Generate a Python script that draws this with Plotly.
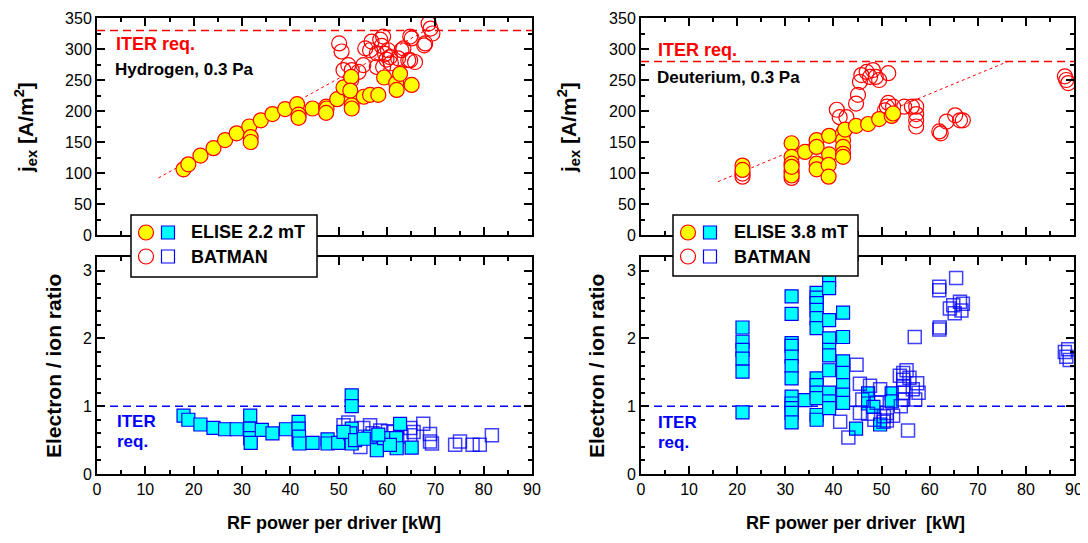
import plotly.graph_objects as go

# ---------------- data ----------------
# Hydrogen (left), extracted current density j_ex [A/m2] vs RF power per driver [kW]
H_elise_p = [17.9, 18.9, 21.4, 24.1, 26.5, 28.9, 31.5, 31.8, 31.8, 33.9,
             36.3, 38.9, 41.4, 41.7, 41.7, 44.6, 47.4, 47.5, 47.4, 49.7,
             51.0, 52.6, 52.7, 52.7, 52.7, 52.7, 52.4, 55.2, 56.5, 58.2,
             59.4, 61.9, 62.0, 62.7, 65.1]
H_elise_j = [106, 114, 128, 140, 153, 164, 175, 158, 150, 185,
             195, 203, 211, 194, 189, 204, 207, 204, 197, 219,
             238, 255, 224, 217, 209, 204, 233, 223, 226, 226,
             254, 245, 234, 260, 242]
H_batman_p = [50.1, 50.6, 51.0, 52.0, 52.6, 52.7, 54.1, 55.1, 55.5, 56.5,
              56.8, 57.9, 58.6, 58.9, 59.2, 59.6, 59.9, 60.2, 59.2, 57.9,
              60.6, 60.8, 62.3, 63.4, 64.8, 65.1, 67.9, 68.6, 69.0, 69.4,
              63.0, 64.4, 65.8, 67.7, 64.8]
H_batman_j = [309, 296, 266, 274, 250, 266, 263, 274, 301, 298,
              312, 293, 315, 305, 320, 292, 283, 298, 271, 271,
              287, 277, 285, 301, 282, 317, 309, 341, 333, 325,
              298, 282, 279, 306, 320]
# Hydrogen electron/ion ratio
H_elise_rp = [17.9, 18.9, 21.4, 24.1, 26.5, 28.9, 31.7, 31.7, 31.7, 31.8,
              34.1, 36.3, 39.1, 41.7, 41.7, 41.7, 41.8, 41.9, 44.6, 47.7,
              47.7, 49.9, 52.7, 52.7, 52.7, 52.4, 52.7, 51.0, 53.4, 56.5,
              57.9, 59.4, 61.9, 62.0, 62.7, 65.1, 60.6, 55.2, 58.2]
H_elise_r = [0.86, 0.80, 0.73, 0.68, 0.66, 0.66, 0.86, 0.67, 0.53, 0.46,
             0.65, 0.60, 0.66, 0.77, 0.67, 0.50, 0.55, 0.45, 0.46, 0.51,
             0.45, 0.46, 1.16, 1.00, 0.67, 0.60, 0.45, 0.62, 0.50, 0.55,
             0.35, 0.53, 0.53, 0.38, 0.74, 0.39, 0.43, 0.52, 0.58]
H_batman_rp = [51.0, 52.0, 55.1, 56.5, 58.6, 60.2, 64.8, 64.8, 67.5, 68.9,
               68.9, 65.5, 69.3, 74.1, 75.1, 77.7, 79.2, 81.7, 53.5, 54.5,
               57.0, 59.0, 61.5, 63.0]
H_batman_r = [0.72, 0.76, 0.68, 0.72, 0.64, 0.63, 0.68, 0.57, 0.74, 0.59,
              0.48, 0.62, 0.45, 0.43, 0.48, 0.43, 0.43, 0.57, 0.55, 0.40,
              0.60, 0.50, 0.62, 0.55]

# Deuterium (right)
D_elise_p = [21.1, 21.1, 31.3, 31.3, 31.3, 31.3, 31.3, 31.3, 34.1, 36.5,
             36.5, 36.5, 36.5, 39.1, 39.1, 39.0, 39.0, 42.0, 42.0, 42.0,
             42.0, 42.0, 42.4, 44.7, 47.2, 49.5, 52.1, 52.4]
D_elise_j = [112, 105, 148, 126, 115, 104, 96, 110, 134, 153,
             142, 115, 106, 160, 130, 113, 94, 164, 153, 142,
             131, 126, 170, 176, 179, 187, 192, 196]
D_batman_p = [21.1, 21.1, 31.3, 31.3, 40.7, 41.3, 42.7, 44.7, 45.1, 45.5,
              45.8, 46.9, 47.6, 48.2, 48.8, 49.5, 51.4, 51.1, 51.4, 50.7,
              52.4, 54.7, 56.3, 57.2, 57.2, 57.2, 57.2, 62.0, 62.3, 63.5,
              65.3, 66.3, 66.9, 88.1, 88.4, 88.8]
D_batman_j = [94, 99, 92, 100, 202, 190, 190, 212, 226, 247,
              258, 263, 255, 266, 255, 250, 261, 207, 213, 201,
              207, 207, 207, 207, 195, 185, 175, 167, 164, 183,
              193, 185, 185, 256, 250, 245]
D_elise_rp = [21.1, 21.1, 21.1, 21.1, 21.1, 21.1,
              31.3, 31.3, 31.3, 31.3, 31.3, 31.3, 31.3, 31.3, 31.3, 31.3, 31.3, 31.3,
              34.1,
              36.5, 36.5, 36.5, 36.5, 36.5, 36.5, 36.5, 36.5, 36.5, 36.5, 36.5, 36.5,
              39.1, 39.1, 39.1, 39.1, 39.1, 39.1, 39.1, 39.1, 39.1, 39.1,
              42.0, 42.0, 42.0, 42.0, 42.0, 42.0, 42.0,
              44.7, 47.2, 47.2, 48.3, 49.7, 52.1, 52.1]
D_elise_r = [2.16, 1.95, 1.83, 1.70, 1.51, 0.91,
             2.62, 2.36, 1.93, 1.89, 1.73, 1.59, 1.41, 1.14, 1.04, 0.97, 0.90, 0.76,
             1.09,
             2.67, 2.60, 2.52, 2.42, 2.30, 2.15, 1.41, 1.31, 1.20, 1.12, 0.87, 0.80,
             2.86, 2.74, 2.27, 2.00, 1.83, 1.75, 1.53, 1.20, 1.07, 0.97,
             2.38, 2.02, 1.66, 1.49, 1.31, 1.17, 1.05,
             0.67, 1.19, 1.04, 0.99, 0.73, 1.19, 1.07]
D_batman_rp = [44.8, 45.5, 47.6, 45.5, 41.4, 43.1, 47.2, 49.7, 51.1, 51.1,
               50.4, 52.4, 54.5, 54.5, 54.5, 54.5, 54.5, 55.2, 57.4, 57.7,
               55.5, 56.9, 62.0, 62.0, 62.1, 62.0, 65.5, 64.2, 64.9, 66.3,
               66.6, 65.2, 66.9, 88.1, 88.4, 88.8, 89.1, 53.8, 54.0, 55.8,
               56.5, 57.0, 49.0, 48.5, 50.5, 46.0]
D_batman_r = [1.61, 1.33, 1.30, 0.90, 0.77, 0.54, 0.89, 1.25, 0.90, 0.79,
              0.77, 0.86, 1.49, 1.39, 1.29, 1.20, 1.10, 1.53, 1.34, 1.20,
              0.64, 2.02, 2.71, 2.76, 2.16, 2.13, 2.89, 2.44, 2.49, 2.54,
              2.41, 2.37, 2.51, 1.80, 1.73, 1.84, 1.68, 1.45, 1.00, 1.42,
              1.25, 1.10, 1.05, 0.80, 0.85, 1.10]

# reference lines
power_range = [0, 90]
H_iter_j = [330, 330]
D_iter_j = [280, 280]
iter_ratio = [1.0, 1.0]
H_fit_p = [12.7, 68.0]
H_fit_j = [92, 330]
D_fit_p = [16.0, 76.3]
D_fit_j = [86, 280]

# ---------------- figure ----------------
# The page body has an 8px margin, so the figure is 8px smaller and layout
# positions (given in screen pixels) are shifted accordingly.
OFF = 8
W, H = 1088 - OFF, 543 - OFF
FONT = "Liberation Sans, Arial, sans-serif"

def px(x):
    return (x - OFF) / W

def py(y):
    return 1 - (y - OFF) / H

fig = go.Figure()

YEL, RED, CYAN, BLUE = "#FFFF00", "#FF0000", "#00FFFF", "#0000FF"

def circ_open(x, y, xa, ya):
    fig.add_trace(go.Scatter(x=x, y=y, mode="markers", xaxis=xa, yaxis=ya,
                             marker=dict(symbol="circle-open", size=15, color=RED,
                                         line=dict(width=1.2, color=RED))))

def circ_fill(x, y, xa, ya):
    fig.add_trace(go.Scatter(x=x, y=y, mode="markers", xaxis=xa, yaxis=ya,
                             marker=dict(symbol="circle", size=15, color=YEL,
                                         line=dict(width=1.2, color=RED))))

def sq_open(x, y, xa, ya):
    fig.add_trace(go.Scatter(x=x, y=y, mode="markers", xaxis=xa, yaxis=ya,
                             marker=dict(symbol="square-open", size=13, color="rgba(0,0,255,0.75)",
                                         line=dict(width=1.5, color="rgba(0,0,255,0.75)"))))

def sq_fill(x, y, xa, ya):
    fig.add_trace(go.Scatter(x=x, y=y, mode="markers", xaxis=xa, yaxis=ya,
                             marker=dict(symbol="square", size=13, color=CYAN,
                                         line=dict(width=1.2, color=BLUE))))

def line(x, y, xa, ya, color, width, dash):
    fig.add_trace(go.Scatter(x=x, y=y, mode="lines", xaxis=xa, yaxis=ya,
                             line=dict(color=color, width=width, dash=dash)))

# top-left
line(H_fit_p, H_fit_j, "x", "y", RED, 1, "3px,3px")
line(power_range, H_iter_j, "x", "y", RED, 1.5, "8px,5px")
circ_open(H_batman_p, H_batman_j, "x", "y")
circ_fill(H_elise_p, H_elise_j, "x", "y")
# bottom-left
line(power_range, iter_ratio, "x2", "y2", BLUE, 1.5, "8px,5px")
sq_open(H_batman_rp, H_batman_r, "x2", "y2")
sq_fill(H_elise_rp, H_elise_r, "x2", "y2")
# top-right
line(D_fit_p, D_fit_j, "x3", "y3", RED, 1, "3px,3px")
line(power_range, D_iter_j, "x3", "y3", RED, 1.5, "8px,5px")
circ_open(D_batman_p, D_batman_j, "x3", "y3")
circ_fill(D_elise_p, D_elise_j, "x3", "y3")
# bottom-right
line(power_range, iter_ratio, "x4", "y4", BLUE, 1.5, "8px,5px")
sq_fill(D_elise_rp, D_elise_r, "x4", "y4")
sq_open(D_batman_rp, D_batman_r, "x4", "y4")

LX = [px(97), px(532)]
RX = [px(641), px(1074)]
TY = [py(235), py(18)]
BY = [py(474), py(257)]

def ax(domain, anchor, rng, dtick, mdtick, labels=True):
    return dict(domain=domain, anchor=anchor, range=rng, dtick=dtick, tick0=0,
                automargin=False,
                showline=True, linecolor="black", linewidth=2, mirror="ticks",
                ticks="inside", ticklen=8, tickwidth=2, tickcolor="black",
                showgrid=False, zeroline=False, showticklabels=labels,
                tickfont=dict(family=FONT, size=16, color="black"),
                minor=dict(dtick=mdtick, tick0=0, ticks="inside", ticklen=4, tickwidth=2,
                           tickcolor="black", showgrid=False))

fig.update_layout(
    width=W, height=H, margin=dict(l=0, r=0, t=0, b=0, autoexpand=False),
    paper_bgcolor="white", plot_bgcolor="white", showlegend=False,
    font=dict(family=FONT, color="black"),
    xaxis=ax(LX, "y", [0, 90], 10, 5, labels=False),
    yaxis=ax(TY, "x", [0, 350], 50, 25),
    xaxis2=ax(LX, "y2", [0, 90], 10, 5),
    yaxis2=ax(BY, "x2", [0, 3.2], 1, 0.2),
    xaxis3=ax(RX, "y3", [0, 90], 10, 5, labels=False),
    yaxis3=ax(TY, "x3", [0, 350], 50, 25),
    xaxis4=ax(RX, "y4", [0, 90], 10, 5),
    yaxis4=ax(BY, "x4", [0, 3.2], 1, 0.2),
)

ann = []
def text(x, y, s, size, color="black", anchor="left", angle=0):
    ann.append(dict(x=px(x), y=py(y), xref="paper", yref="paper", text=s, showarrow=False,
                    xanchor=anchor, yanchor="middle", textangle=angle,
                    font=dict(family=FONT, size=size, color=color)))

# panel texts
text(114, 44, "<b>ITER req.</b>", 18, RED)
text(113, 69, "<b>Hydrogen, 0.3 Pa</b>", 17)
text(656, 50, "<b>ITER req.</b>", 18, RED)
text(655, 77, "<b>Deuterium, 0.3 Pa</b>", 17)
text(115, 421, "<b>ITER</b>", 17, BLUE)
text(115, 441, "<b>req.</b>", 17, BLUE)
text(656, 422, "<b>ITER</b>", 17, BLUE)
text(656, 442, "<b>req.</b>", 17, BLUE)

# axis titles
text(334, 523, "<b>RF power per driver [kW]</b>", 18, anchor="center")
text(855, 523, "<b>RF power per driver  [kW]</b>", 18, anchor="center")
for xc in (25, 568):
    text(xc, 128, "<b>j<sub>ex</sub> [A/m<sup>2</sup>]</b>", 21, anchor="center", angle=-90)
for xc in (53, 596):
    text(xc, 366, "<b>Electron / ion ratio</b>", 21, anchor="center", angle=-90)

# legends
shapes = []
def legend(x0, x1, y0, y1, cx, sx, tx, label):
    shapes.append(dict(type="rect", xref="paper", yref="paper", x0=px(x0), x1=px(x1),
                       y0=py(y1), y1=py(y0), fillcolor="white", line=dict(color="black", width=1.5)))
    r1, r2 = 232.5, 256.5
    rad = 7.5
    shapes.append(dict(type="circle", xref="paper", yref="paper", x0=px(cx - rad), x1=px(cx + rad),
                       y0=py(r1 + rad), y1=py(r1 - rad), fillcolor=YEL, line=dict(color=RED, width=1.2)))
    shapes.append(dict(type="circle", xref="paper", yref="paper", x0=px(cx - rad), x1=px(cx + rad),
                       y0=py(r2 + rad), y1=py(r2 - rad), fillcolor="rgba(0,0,0,0)", line=dict(color=RED, width=1.2)))
    s = 6.5
    shapes.append(dict(type="rect", xref="paper", yref="paper", x0=px(sx - s), x1=px(sx + s),
                       y0=py(r1 + s), y1=py(r1 - s), fillcolor=CYAN, line=dict(color=BLUE, width=1.2)))
    shapes.append(dict(type="rect", xref="paper", yref="paper", x0=px(sx - s), x1=px(sx + s),
                       y0=py(r2 + s), y1=py(r2 - s), fillcolor="rgba(0,0,0,0)", line=dict(color=BLUE, width=1.2)))
    text(tx, r1, "<b>%s</b>" % label, 18)
    text(tx, r2, "<b>BATMAN</b>", 18)

legend(131, 317, 215, 277, 146, 168, 189, "ELISE 2.2 mT")
legend(673, 858, 215, 276, 688, 710, 732, "ELISE 3.8 mT")

fig.update_layout(annotations=ann, shapes=shapes)
fig.write_html("out.html")
